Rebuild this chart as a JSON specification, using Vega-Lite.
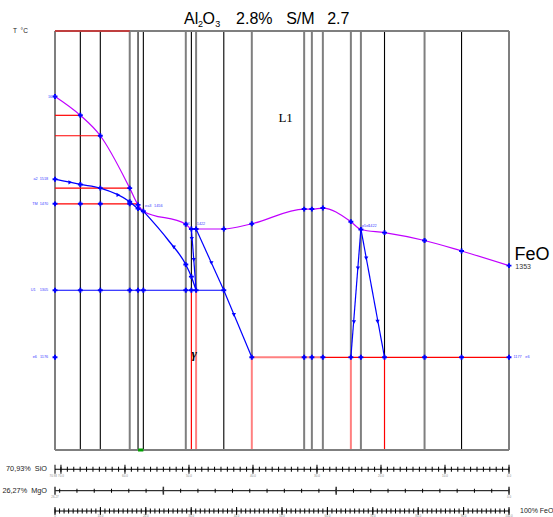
{
"$schema":"https://vega.github.io/schema/vega-lite/v6.json",
"width":454,"height":419,
"autosize":{"type":"none"},
"padding":{"left":55,"top":31,"right":44,"bottom":67},
"background":"white",
"config":{"view":{"stroke":null},"font":"Liberation Sans"},
"datasets":{
"seg":[
{"x":0,"x2":0,"y":1000,"y2":1800,"c":"g"},
{"x":5.58,"x2":5.58,"y":1000,"y2":1800,"c":"k"},
{"x":9.98,"x2":9.98,"y":1000,"y2":1800,"c":"k"},
{"x":16.46,"x2":16.46,"y":1000,"y2":1800,"c":"g"},
{"x":18.29,"x2":18.29,"y":1000,"y2":1800,"c":"k"},
{"x":19.46,"x2":19.46,"y":1000,"y2":1800,"c":"k"},
{"x":28.81,"x2":28.81,"y":1000,"y2":1800,"c":"g"},
{"x":30.04,"x2":30.04,"y":1305,"y2":1800,"c":"k"},
{"x":30.04,"x2":30.04,"y":1000,"y2":1305,"c":"r"},
{"x":31.08,"x2":31.08,"y":1305,"y2":1800,"c":"g"},
{"x":31.08,"x2":31.08,"y":1000,"y2":1305,"c":"lr"},
{"x":37.18,"x2":37.18,"y":1000,"y2":1800,"c":"k"},
{"x":43.35,"x2":43.35,"y":1177,"y2":1800,"c":"g"},
{"x":43.35,"x2":43.35,"y":1000,"y2":1177,"c":"lr"},
{"x":54.88,"x2":54.88,"y":1000,"y2":1800,"c":"g"},
{"x":56.58,"x2":56.58,"y":1000,"y2":1800,"c":"g"},
{"x":59.0,"x2":59.0,"y":1000,"y2":1800,"c":"g"},
{"x":65.17,"x2":65.17,"y":1177,"y2":1800,"c":"g"},
{"x":65.17,"x2":65.17,"y":1000,"y2":1177,"c":"lr"},
{"x":67.38,"x2":67.38,"y":1000,"y2":1800,"c":"g"},
{"x":72.58,"x2":72.58,"y":1177,"y2":1800,"c":"k"},
{"x":72.58,"x2":72.58,"y":1000,"y2":1177,"c":"r"},
{"x":81.40,"x2":81.40,"y":1000,"y2":1800,"c":"g"},
{"x":89.55,"x2":89.55,"y":1000,"y2":1800,"c":"k"},
{"x":100,"x2":100,"y":1000,"y2":1800,"c":"g"},
{"x":0,"x2":100,"y":1800,"y2":1800,"c":"g"},
{"x":0,"x2":100,"y":1000,"y2":1000,"c":"g"},
{"x":0,"x2":16.46,"y":1800,"y2":1800,"c":"r"},
{"x":0,"x2":5.58,"y":1639,"y2":1639,"c":"r"},
{"x":0,"x2":9.98,"y":1600,"y2":1600,"c":"r"},
{"x":0,"x2":16.46,"y":1500,"y2":1500,"c":"r"},
{"x":0,"x2":18.29,"y":1470,"y2":1470,"c":"r"},
{"x":43.35,"x2":59.0,"y":1177,"y2":1177,"c":"lr"},
{"x":59.0,"x2":100,"y":1177,"y2":1177,"c":"r"},
{"x":18.29,"x2":19.46,"y":1000,"y2":1000,"c":"grn"},
{"x":0,"x2":37.18,"y":1305,"y2":1305,"c":"b"},
{"x":30.04,"x2":30.57,"y":1422,"y2":1363,"c":"b"},
{"x":30.57,"x2":31.08,"y":1363,"y2":1305,"c":"b"},
{"x":31.08,"x2":37.18,"y":1422,"y2":1305,"c":"b"},
{"x":37.18,"x2":43.35,"y":1305,"y2":1177,"c":"b"},
{"x":65.17,"x2":67.38,"y":1177,"y2":1422,"c":"b"},
{"x":67.38,"x2":72.58,"y":1422,"y2":1177,"c":"b"}
],
"liq":[
{"x":0,"y":1675},{"x":5.58,"y":1639},{"x":9.98,"y":1600},{"x":16.46,"y":1500},{"x":18.29,"y":1468},{"x":19.46,"y":1456},
{"x":28.81,"y":1431},{"x":30.04,"y":1422},{"x":31.08,"y":1422},{"x":37.18,"y":1422},{"x":43.35,"y":1432},
{"x":54.88,"y":1460},{"x":56.58,"y":1460},{"x":59.0,"y":1462},{"x":65.17,"y":1436},{"x":67.38,"y":1421},
{"x":72.58,"y":1415},{"x":81.40,"y":1400},{"x":89.55,"y":1380},{"x":100,"y":1352}
],
"bc":[
{"id":"A","x":0,"y":1517},{"id":"A","x":5.58,"y":1507},{"id":"A","x":9.98,"y":1500},{"id":"A","x":16.46,"y":1474},{"id":"A","x":18.29,"y":1461},{"id":"A","x":19.46,"y":1456},
{"id":"B","x":19.46,"y":1456},{"id":"B","x":25.0,"y":1400},{"id":"B","x":28.81,"y":1354},{"id":"B","x":30.04,"y":1331},{"id":"B","x":31.08,"y":1305}
],
"nodes":[
{"x":0,"y":1517},{"x":5.58,"y":1507},{"x":9.98,"y":1500},{"x":16.46,"y":1474},{"x":18.29,"y":1461},
{"x":0,"y":1470},{"x":5.58,"y":1470},{"x":9.98,"y":1470},{"x":16.46,"y":1470},
{"x":0,"y":1305},{"x":5.58,"y":1305},{"x":9.98,"y":1305},{"x":16.46,"y":1305},{"x":18.29,"y":1305},{"x":19.46,"y":1305},{"x":28.81,"y":1305},{"x":30.04,"y":1305},{"x":31.08,"y":1305},{"x":37.18,"y":1305},
{"x":28.81,"y":1354},{"x":30.04,"y":1331},
{"x":0,"y":1177},{"x":43.35,"y":1177},{"x":54.88,"y":1177},{"x":56.58,"y":1177},{"x":59.0,"y":1177},{"x":65.17,"y":1177},{"x":67.38,"y":1177},{"x":72.58,"y":1177},{"x":81.40,"y":1177},{"x":89.55,"y":1177},{"x":100,"y":1177}
],
"arr":[
{"x":3.37,"y":1511,"s":"r"},{"x":13.95,"y":1487,"s":"r"},
{"x":26.16,"y":1387,"s":"d"},{"x":30.13,"y":1403,"s":"d"},{"x":30.57,"y":1363,"s":"d"},
{"x":34.45,"y":1357,"s":"d"},{"x":39.4,"y":1258,"s":"d"},
{"x":65.84,"y":1244,"s":"d"},{"x":66.72,"y":1347,"s":"d"},{"x":68.55,"y":1366,"s":"d"},{"x":71.04,"y":1245,"s":"d"}
],
"lblR":[
{"x":0.3,"y":1674,"t":"1675"},
{"x":-1.5,"y":1518,"t":"a2\u00a0\u00a01518"},
{"x":-1.5,"y":1470,"t":"TM\u00a0\u00a01470"},
{"x":-1.5,"y":1306,"t":"U1\u00a0\u00a0\u00a0\u00a01305"},
{"x":-1.5,"y":1177,"t":"e6\u00a0\u00a0\u00a01176"}
],
"lblL":[
{"x":19.84,"y":1466,"t":"ea3"},{"x":21.82,"y":1466,"t":"1456"},
{"x":29.1,"y":1431,"t":"R"},{"x":31.23,"y":1431,"t":"1422"},
{"x":67.6,"y":1428,"t":"p5el"},{"x":69.0,"y":1428,"t":"1422"},
{"x":101.0,"y":1177,"t":"1177"},{"x":103.6,"y":1177,"t":"e6"}
],
"vnum":[
{"x":0,"t":"1"},{"x":5.58,"t":"2"},{"x":9.98,"t":"3"},{"x":16.46,"t":"4"},{"x":18.29,"t":"5"},{"x":19.46,"t":"6"},
{"x":28.81,"t":"7"},{"x":30.04,"t":"8"},{"x":31.08,"t":"9"},{"x":37.18,"t":"10"},{"x":43.35,"t":"11"},
{"x":54.88,"t":"12"},{"x":56.58,"t":"13"},{"x":59.0,"t":"14"},{"x":65.17,"t":"15"},{"x":67.38,"t":"16"},
{"x":72.58,"t":"17"},{"x":81.40,"t":"18"},{"x":89.55,"t":"19"},{"x":100,"t":"20"}
]
},
"layer":[
{
"encoding":{
"x":{"field":"x","type":"quantitative","scale":{"domain":[0,100],"nice":false,"zero":false},"axis":null},
"y":{"field":"y","type":"quantitative","scale":{"domain":[1000,1800],"nice":false,"zero":false},"axis":null}
},
"layer":[
{"data":{"name":"seg"},"mark":{"type":"rule"},
"encoding":{
"y":{"field":"y","type":"quantitative","scale":{"domain":[1000,1800],"nice":false,"zero":false},
"axis":{"values":[1000,1100,1200,1300,1400,1500,1600,1700,1800],"format":"d","labelFontSize":3.8,"labelColor":"#808080","ticks":false,"tickSize":0,"domain":false,"grid":false,"title":null,"labelPadding":8,"labelFlush":false,"labelOverlap":false}},
"x2":{"field":"x2"},"y2":{"field":"y2"},
"color":{"field":"c","type":"nominal","scale":{"domain":["g","k","r","lr","grn","b"],"range":["#7f7f7f","#000000","#ff0000","#ff8080","#00a000","#0000ff"]},"legend":null},
"strokeWidth":{"field":"c","type":"nominal","scale":{"type":"ordinal","domain":["g","k","r","lr","grn","b"],"range":[2,1.1,1.2,2,3,1.2]},"legend":null}
}},
{"data":{"name":"liq"},"mark":{"type":"line","color":"#c000ff","strokeWidth":1.2,"interpolate":"monotone"},"encoding":{}},
{"data":{"name":"bc"},"mark":{"type":"line","color":"#0000ff","strokeWidth":1.3,"interpolate":"monotone"},"encoding":{"detail":{"field":"id"}}},
{"data":{"name":"liq"},"mark":{"type":"point","shape":"cross","filled":true,"color":"#0000ff","size":24,"opacity":1},"encoding":{}},
{"data":{"name":"nodes"},"mark":{"type":"point","shape":"cross","filled":true,"color":"#0000ff","size":24,"opacity":1},"encoding":{}},
{"data":{"name":"arr"},"mark":{"type":"point","filled":true,"color":"#0000ff","size":18,"opacity":1},
"encoding":{"shape":{"field":"s","type":"nominal","scale":{"domain":["r","d"],"range":["triangle-right","triangle-down"]},"legend":null}}},
{"data":{"name":"lblR"},"mark":{"type":"text","align":"right","baseline":"middle","fontSize":3.8,"color":"#3c3cff"},"encoding":{"text":{"field":"t"}}},
{"data":{"name":"lblL"},"mark":{"type":"text","align":"left","baseline":"middle","fontSize":3.8,"color":"#3c3cff"},"encoding":{"text":{"field":"t"}}},
{"data":{"name":"vnum"},"mark":{"type":"text","align":"center","baseline":"top","fontSize":3.4,"color":"#8a8a8a","dy":2},"encoding":{"y":{"datum":1000,"type":"quantitative"},"text":{"field":"t"}}},
{"data":{"values":[{"x":28.43,"y":1814.3,"t":"Al"},{"x":32.5,"y":1814.3,"t":"O"},{"x":39.89,"y":1814.3,"t":"2.8%"},{"x":50.91,"y":1814.3,"t":"S/M"},{"x":59.95,"y":1814.3,"t":"2.7"}]},
"mark":{"type":"text","align":"left","baseline":"alphabetic","fontSize":16,"color":"#000"},"encoding":{"text":{"field":"t"}}},
{"data":{"values":[{"x":31.5,"y":1808.5,"t":"2"},{"x":35.3,"y":1808.5,"t":"3"}]},
"mark":{"type":"text","align":"left","baseline":"alphabetic","fontSize":9,"color":"#000"},"encoding":{"text":{"field":"t"}}},
{"data":{"values":[{"x":50.8,"y":1626.3,"t":"L1"}]},
"mark":{"type":"text","align":"center","baseline":"alphabetic","fontSize":13,"font":"Liberation Serif","color":"#000"},"encoding":{"text":{"field":"t"}}},
{"data":{"values":[{"x":30.64,"y":1175.3,"t":"γ"}]},
"mark":{"type":"text","align":"center","baseline":"alphabetic","fontSize":13,"font":"Liberation Serif","fontStyle":"italic","fontWeight":"bold","color":"#000"},"encoding":{"text":{"field":"t"}}},
{"data":{"values":[{"x":101.2,"y":1362.8,"t":"FeO"}]},
"mark":{"type":"text","align":"left","baseline":"alphabetic","fontSize":18,"color":"#000"},"encoding":{"text":{"field":"t"}}},
{"data":{"values":[{"x":101.4,"y":1350,"t":"1353"}]},
"mark":{"type":"text","align":"left","baseline":"middle","fontSize":7,"color":"#333"},"encoding":{"text":{"field":"t"}}},
{"data":{"values":[{"x":-9.26,"y":1800,"t":"T\u00a0\u00a0°C"}]},
"mark":{"type":"text","align":"left","baseline":"middle","fontSize":6.5,"color":"#222"},"encoding":{"text":{"field":"t"}}}
]
},
{
"encoding":{
"x":{"field":"data","type":"quantitative","scale":{"domain":[0,70.93],"reverse":true,"nice":false,"zero":false},"axis":null},
"y":{"datum":963.2,"type":"quantitative","scale":{"domain":[1000,1800],"nice":false,"zero":false},"axis":null}
},
"layer":[
{"data":{"values":[{"a":70.93,"b":0}]},"mark":{"type":"rule","color":"#000","strokeWidth":1},"encoding":{"x":{"field":"a","type":"quantitative","scale":{"domain":[0,70.93],"reverse":true,"nice":false,"zero":false},"axis":null},"x2":{"field":"b"}}},
{"data":{"values":[0,1,2,3,4,5,6,7,8,9,10,11,12,13,14,15,16,17,18,19,20,21,22,23,24,25,26,27,28,29,30,31,32,33,34,35,36,37,38,39,40,41,42,43,44,45,46,47,48,49,50,51,52,53,54,55,56,57,58,59,60,61,62,63,64,65,66,67,68,69,70]},
"mark":{"type":"tick","orient":"vertical","size":5,"thickness":1,"color":"#000","opacity":1}},
{"data":{"values":[70.93,70,60,50,40,30,20,10,0]},
"mark":{"type":"tick","orient":"vertical","size":9,"thickness":1,"color":"#000","opacity":1}},
{"data":{"values":[60,50,40,30,20,10,0,70]},
"mark":{"type":"text","baseline":"top","fontSize":3,"color":"#8a8a8a","dy":5},"encoding":{"text":{"field":"data","format":".1f"}}},
{"data":{"values":[70.93]},
"mark":{"type":"text","align":"right","baseline":"top","fontSize":3,"color":"#8a8a8a","dy":5,"dx":2},"encoding":{"text":{"field":"data","format":".2f"}}},
{"data":{"values":[70.93]},
"mark":{"type":"text","align":"right","baseline":"middle","fontSize":7.3,"color":"#222","dx":-8},"encoding":{"text":{"value":"70,93%\u00a0\u00a0SiO"}}}
]
},
{
"encoding":{
"x":{"field":"data","type":"quantitative","scale":{"domain":[0,26.27],"reverse":true,"nice":false,"zero":false},"axis":null},
"y":{"datum":922.3,"type":"quantitative","scale":{"domain":[1000,1800],"nice":false,"zero":false},"axis":null}
},
"layer":[
{"data":{"values":[{"a":26.27,"b":0}]},"mark":{"type":"rule","color":"#000","strokeWidth":1},"encoding":{"x":{"field":"a","type":"quantitative","scale":{"domain":[0,26.27],"reverse":true,"nice":false,"zero":false},"axis":null},"x2":{"field":"b"}}},
{"data":{"values":[0,1,2,3,4,5,6,7,8,9,10,11,12,13,14,15,16,17,18,19,20,21,22,23,24,25,26]},
"mark":{"type":"tick","orient":"vertical","size":4,"thickness":1,"color":"#000","opacity":1}},
{"data":{"values":[26.27,20,10,0]},
"mark":{"type":"tick","orient":"vertical","size":8,"thickness":1.5,"color":"#333","opacity":1}},
{"data":{"values":[26.27]},
"mark":{"type":"text","baseline":"top","fontSize":3,"color":"#8a8a8a","dy":5},"encoding":{"text":{"field":"data","format":".2f"}}},
{"data":{"values":[0]},
"mark":{"type":"text","baseline":"top","fontSize":3,"color":"#8a8a8a","dy":5},"encoding":{"text":{"field":"data","format":".1f"}}},
{"data":{"values":[26.27]},
"mark":{"type":"text","align":"right","baseline":"middle","fontSize":7.3,"color":"#222","dx":-8},"encoding":{"text":{"value":"26,27%\u00a0\u00a0MgO"}}}
]
},
{
"encoding":{
"x":{"field":"data","type":"quantitative","scale":{"domain":[0,100],"nice":false,"zero":false},"axis":null},
"y":{"datum":883.5,"type":"quantitative","scale":{"domain":[1000,1800],"nice":false,"zero":false},"axis":null}
},
"layer":[
{"data":{"values":[{"a":0,"b":100}]},"mark":{"type":"rule","color":"#000","strokeWidth":1},"encoding":{"x":{"field":"a","type":"quantitative","scale":{"domain":[0,100],"nice":false,"zero":false},"axis":null},"x2":{"field":"b"}}},
{"data":{"values":[0,1,2,3,4,5,6,7,8,9,10,11,12,13,14,15,16,17,18,19,20,21,22,23,24,25,26,27,28,29,30,31,32,33,34,35,36,37,38,39,40,41,42,43,44,45,46,47,48,49,50,51,52,53,54,55,56,57,58,59,60,61,62,63,64,65,66,67,68,69,70,71,72,73,74,75,76,77,78,79,80,81,82,83,84,85,86,87,88,89,90,91,92,93,94,95,96,97,98,99,100]},
"mark":{"type":"tick","orient":"vertical","size":5,"thickness":1,"color":"#000","opacity":1}},
{"data":{"values":[0,10,20,30,40,50,60,70,80,90,100]},
"mark":{"type":"tick","orient":"vertical","size":8,"thickness":1,"color":"#000","opacity":1}},
{"data":{"values":[10,20,30,40,50,60,70,80,90,100]},
"mark":{"type":"text","baseline":"top","fontSize":3,"color":"#8a8a8a","dy":4},"encoding":{"text":{"field":"data","format":".1f"}}},
{"data":{"values":[0]},
"mark":{"type":"text","baseline":"top","fontSize":3,"color":"#8a8a8a","dy":4},"encoding":{"text":{"field":"data","format":"d"}}},
{"data":{"values":[100]},
"mark":{"type":"text","align":"left","baseline":"middle","fontSize":7,"color":"#222","dx":11},"encoding":{"text":{"value":"100%\u00a0FeO"}}}
]
}
],
"resolve":{"scale":{"x":"independent"}}
}
